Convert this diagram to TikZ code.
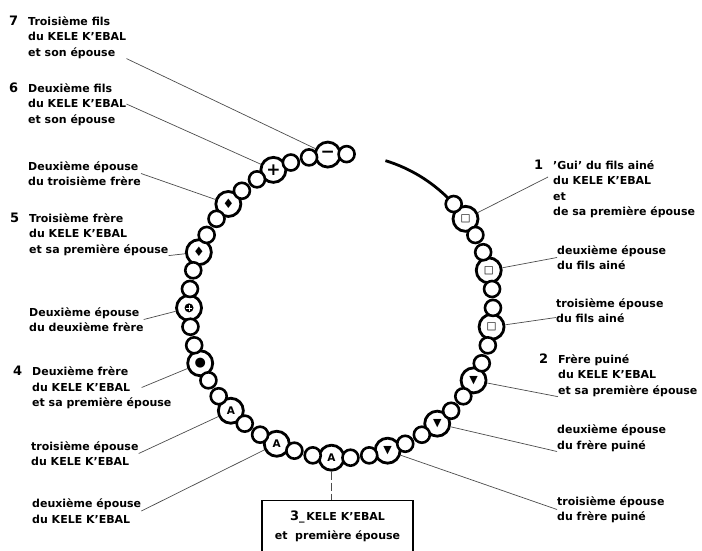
\documentclass[tikz,border=0pt]{standalone}
\usepackage{fontspec}
\setmainfont{DejaVu Sans}
\usetikzlibrary{calc}
\newcommand{\numf}[1]{\llap{\fontsize{13}{15}\selectfont\bfseries #1\hspace{10pt}}}
\newcommand{\symsq}{{\fontsize{10.5}{10}\selectfont □}}
\newcommand{\symtri}{{\fontsize{11}{10}\selectfont ▼}}
\newcommand{\symA}{{\fontsize{10.5}{10}\selectfont\bfseries A}}
\newcommand{\symdot}{{\fontsize{13}{12}\selectfont ●}}
\newcommand{\symdia}{{\fontsize{13}{12}\selectfont ♦}}
\newcommand{\symplus}{{\fontsize{17}{16}\selectfont\bfseries +}}
\newcommand{\symminus}{{\fontsize{17}{16}\selectfont\bfseries −}}

\begin{document}
\begin{tikzpicture}[x=1pt,y=-1pt,
 lab/.style={align=left,inner sep=0pt,anchor=west,
   font=\fontsize{11}{15.5}\selectfont\bfseries},
 bigbead/.style={circle,draw,line width=2.8pt,fill=white,minimum size=25pt,
   inner sep=0pt},
 smallbead/.style={circle,draw,line width=2.6pt,fill=white,minimum size=16pt,
   inner sep=0pt},
 bare/.style={},
 crossb/.style={path picture={
   \fill[black] (path picture bounding box.center) circle[radius=4.5pt];
   \draw[white,line width=0.6pt]
     ([xshift=-3pt]path picture bounding box.center) --
     ([xshift=3pt]path picture bounding box.center)
     ([yshift=-3pt]path picture bounding box.center) --
     ([yshift=3pt]path picture bounding box.center);}},
 leader/.style={draw=black!70,line width=0.7pt}]
\useasboundingbox (0,0) rectangle (702,550);
\coordinate (c) at (341,306);

% the string, open at the top
\draw[line width=2.8pt] ($(c)+(-73:152)$) arc[start angle=-73,end angle=-44,radius=152];

% big beads, from the fils aine round to the troisieme fils
\foreach \st/\sym [count=\k from 0] in {bare/\symsq,bare/\symsq,bare/\symsq,
  bare/\symtri,bare/\symtri,bare/\symtri,bare/\symA,bare/\symA,bare/\symA,
  bare/\symdot,crossb/{},bare/\symdia,bare/\symdia,bare/\symplus,bare/\symminus}
  \node[bigbead,\st] (b\k) at ($(c)+({21.43*\k-35}:152)$) {\sym};

% small beads
\foreach \k in {0,...,13}
  \foreach \j in {1,2}
    \node[smallbead] (s\k-\j) at ($(c)+({21.43*\k-35+7.143*\j}:152)$) {};
\node[smallbead] (s-first) at ($(c)+(-42.14:152)$) {};
\node[smallbead] (s-last) at ($(c)+(272.1:152)$) {};

% left labels
\node[lab] (l7) at (28,37) {\numf{7}Troisième fils\\du KELE K'EBAL\\et son épouse};
\node[lab] (l6) at (28,104) {\numf{6}Deuxième fils\\du KELE K'EBAL\\et son épouse};
\node[lab] (ld3) at (28,173.5) {Deuxième épouse\\du troisième frère};
\node[lab] (l5) at (29,234) {\numf{5}Troisième frère\\du KELE K'EBAL\\et sa première épouse};
\node[lab] (ld2) at (29,319.5) {Deuxième épouse\\du deuxième frère};
\node[lab] (l4) at (32,387.5) {\numf{4}Deuxième frère\\du KELE K'EBAL\\et sa première épouse};
\node[lab] (l3w) at (31,453.5) {troisième épouse\\du KELE K'EBAL};
\node[lab] (l2w) at (32,511) {deuxième épouse\\du KELE K'EBAL};

% right labels
\node[lab] (r1) at (553,189) {\numf{1}'Gui' du fils ainé\\du KELE K'EBAL\\et\\de sa première épouse};
\node[lab] (r1b) at (557,257.5) {deuxième épouse\\du fils ainé};
\node[lab] (r1c) at (556,310.5) {troisième épouse\\du fils ainé};
\node[lab] (r2) at (558,375) {\numf{2}Frère puiné\\du KELE K'EBAL\\et sa première épouse};
\node[lab] (r2b) at (557,438) {deuxième épouse\\du frère puiné};
\node[lab] (r2c) at (557,509.5) {troisième épouse\\du frère puiné};

% the KELE K'EBAL box
\node[draw,line width=1.2pt,minimum width=151pt,minimum height=52pt,anchor=north,
  align=center,font=\fontsize{11}{19}\selectfont\bfseries] (kk) at (337.5,500)
  {{\fontsize{13}{15}\selectfont 3}\_\,KELE K'EBAL\\et\ \ première épouse};

% leaders
\draw[leader] (l7.south east) -- (b14);
\draw[leader] (l6.east) -- (b13);
\draw[leader] (ld3.east) -- (b12);
\draw[leader] (l5.south east) -- (b11);
\draw[leader] (ld2.east) -- (b10);
\draw[leader] ([xshift=-30pt]l4.east) -- (b9);
\draw[leader] (l3w.east) -- (b8);
\draw[leader] (l2w.east) -- (b7);
\draw[leader,dash pattern=on 8pt off 3pt] (b6.south) -- (b6.south |- kk.north);
\draw[leader] (r2c.west) -- (b5);
\draw[leader] (r2b.south west) -- (b4);
\draw[leader] (r2.south west) -- (b3);
\draw[leader] ([yshift=-7pt]r1c.west) -- (b2);
\draw[leader] (r1b.west) -- (b1);
\draw[leader] ([xshift=-5pt,yshift=12pt]r1.west) -- (b0);
\end{tikzpicture}
\end{document}
